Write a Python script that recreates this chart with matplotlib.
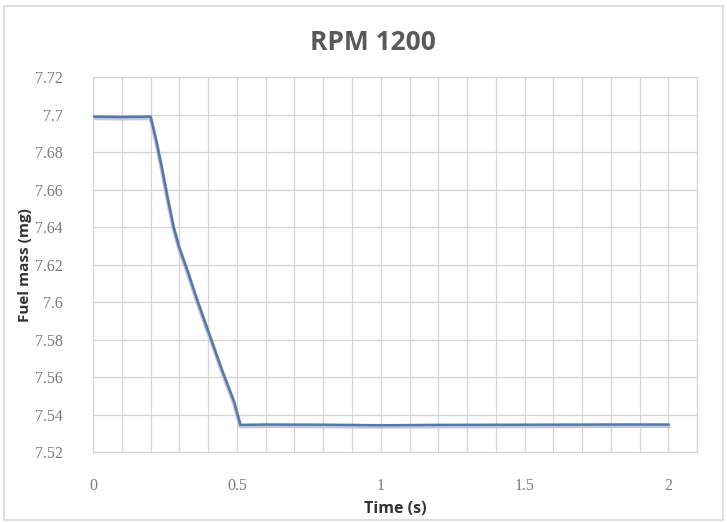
import matplotlib
matplotlib.use('Agg')
from matplotlib import pyplot as plt
from matplotlib.patches import Rectangle
import numpy as np

# data
time_s = [0, 0.1, 0.2, 0.22, 0.24, 0.26, 0.28, 0.3, 0.33, 0.36, 0.39, 0.42, 0.45, 0.49, 0.512,
          0.6, 0.8, 1.0, 1.2, 1.5, 1.8, 2.0]
fuel_mg = [7.6990, 7.6988, 7.6990, 7.686, 7.671, 7.655, 7.640, 7.629, 7.616, 7.602, 7.589, 7.576,
           7.563, 7.547, 7.5345,
           7.5347, 7.5346, 7.5343, 7.5345, 7.5346, 7.5347, 7.5347]
y_ticks = [7.52, 7.54, 7.56, 7.58, 7.6, 7.62, 7.64, 7.66, 7.68, 7.7, 7.72]
y_labels = ['7.52', '7.54', '7.56', '7.58', '7.6', '7.62', '7.64', '7.66', '7.68', '7.7', '7.72']
x_ticks = [0, 0.5, 1, 1.5, 2]
x_labels = ['0', '0.5', '1', '1.5', '2']

plt.rcParams['font.family'] = ['Open Sans', 'DejaVu Sans']
fig = plt.figure(figsize=(7.27, 5.22), dpi=100)
ax = fig.add_axes([0.128, 0.134, 0.831, 0.718])

# faint shadow under the line, like excel
ax.plot(time_s, np.array(fuel_mg) - 0.0008, color='#c3c8d2', lw=3, zorder=2)
ax.plot(time_s, fuel_mg, color='#5478ae', lw=1.8, zorder=3)

ax.set_xlim(0, 2.1)
ax.set_ylim(7.52, 7.72)
ax.set_yticks(y_ticks)
ax.set_yticklabels(y_labels, family='Liberation Serif')
ax.set_xticks(x_ticks)
ax.set_xticklabels(x_labels, family='Liberation Serif')
ax.set_xticks(np.arange(0, 2.11, 0.1), minor=True)
ax.grid(True, which='major', axis='y', color='#d4d4d4', lw=0.9)
ax.grid(True, which='both', axis='x', color='#d4d4d4', lw=0.9)
ax.set_axisbelow(True)
for s in ax.spines.values():
    s.set_color('#d4d4d4')
ax.tick_params(which='both', length=0, colors='#7a7a7a', labelsize=11.5)
ax.tick_params(axis='y', pad=22)
ax.tick_params(axis='x', pad=19)

fig.text(0.513, 0.918, 'RPM 1200', fontsize=19, fontweight='bold', color='#595959',
         ha='center', va='center')
ax.set_xlabel('Time (s)', fontsize=11.5, fontweight='bold', color='#333333', labelpad=5)
ax.set_ylabel('Fuel mass (mg)', fontsize=11, fontweight='bold', color='#333333', labelpad=2)

fig.patches.append(Rectangle((0.006, 0.004), 0.988, 0.985, transform=fig.transFigure,
                             fill=False, edgecolor='#d9d9d9', lw=1.2))

plt.savefig('out.png', dpi=100)
